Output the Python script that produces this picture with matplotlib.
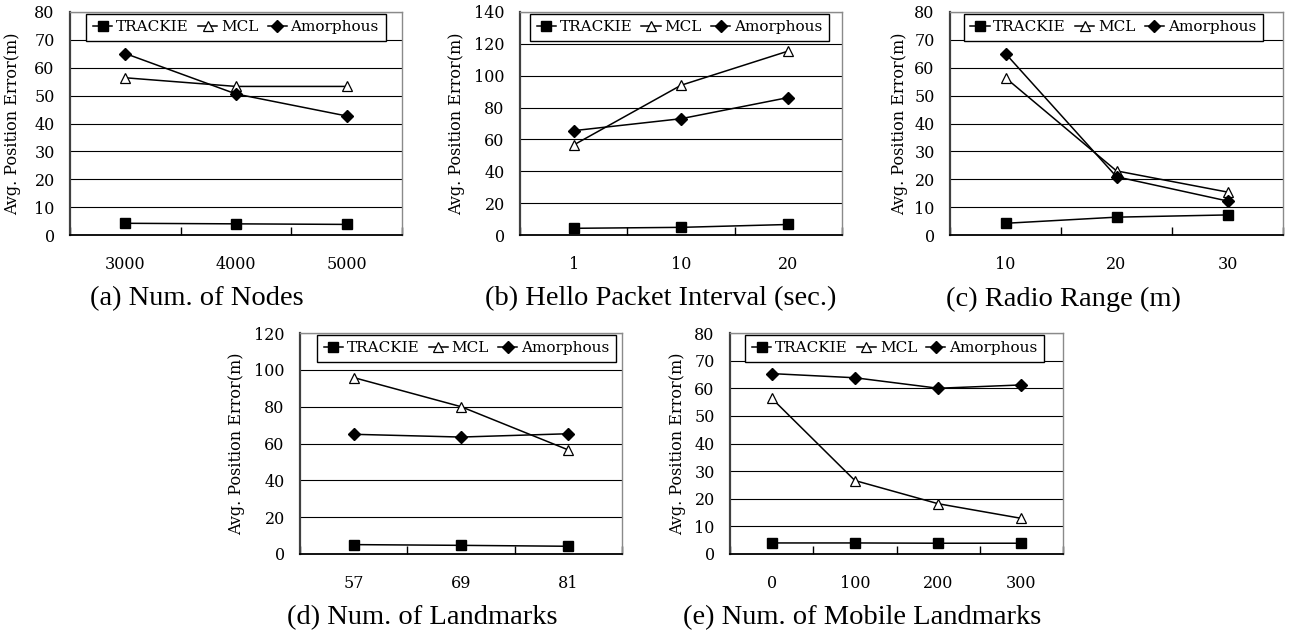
import matplotlib
matplotlib.use("Agg")
import matplotlib.pyplot as plt
import numpy as np

# ---- data ----
nodes_x = ['3000', '4000', '5000']
nodes_trackie = [4.2, 4.0, 3.8]
nodes_mcl = [56.4, 53.3, 53.3]
nodes_amorph = [65.1, 50.6, 42.7]

hello_x = ['1', '10', '20']
hello_trackie = [4.2, 4.8, 6.6]
hello_mcl = [56.5, 94.0, 115.5]
hello_amorph = [65.5, 73.0, 86.3]

radio_x = ['10', '20', '30']
radio_trackie = [4.2, 6.4, 7.2]
radio_mcl = [56.4, 23.0, 15.4]
radio_amorph = [65.1, 20.9, 12.2]

land_x = ['57', '69', '81']
land_trackie = [5.1, 4.7, 4.2]
land_mcl = [95.8, 80.0, 56.5]
land_amorph = [65.0, 63.5, 65.3]

mob_x = ['0', '100', '200', '300']
mob_trackie = [4.0, 4.0, 3.9, 3.9]
mob_mcl = [56.4, 26.6, 18.2, 12.9]
mob_amorph = [65.3, 63.8, 60.0, 61.2]

captions = ['(a) Num. of Nodes', '(b) Hello Packet Interval (sec.)',
            '(c) Radio Range (m)', '(d) Num. of Landmarks',
            '(e) Num. of Mobile Landmarks']
series_names = ['TRACKIE', 'MCL', 'Amorphous']
ylabel = 'Avg. Position Error(m)'

W, H = 1289, 635
fig = plt.figure(figsize=(W / 100, H / 100), dpi=100)

# panel layout in pixels: left, right, top, bottom, ymax, ystep, legend cx, ylabel x, caption cx
panels = [
    (nodes_x, nodes_trackie, nodes_mcl, nodes_amorph, (70, 402, 12, 235), 80, 10, 0.50, 13, 197),
    (hello_x, hello_trackie, hello_mcl, hello_amorph, (520, 842, 12, 235), 140, 20, 0.495, 457, 661),
    (radio_x, radio_trackie, radio_mcl, radio_amorph, (950, 1283, 12, 235), 80, 10, 0.49, 900, 1063),
    (land_x, land_trackie, land_mcl, land_amorph, (300, 622, 333, 554), 120, 20, 0.517, 237, 422),
    (mob_x, mob_trackie, mob_mcl, mob_amorph, (730, 1063, 333, 554), 80, 10, 0.495, 678, 862),
]

tick_font = 'DejaVu Serif'
cap_font = 'Liberation Serif'

for k, (cats, tr, mc, am, box, ymax, ystep, lcx, ylx, capx) in enumerate(panels):
    l, r, t, b = box
    ax = fig.add_axes([l / W, (H - b) / H, (r - l) / W, (b - t) / H])
    n = len(cats)
    xs = np.arange(n) + 0.5
    ax.plot(xs, tr, color='black', lw=1.1, marker='s', ms=7, mfc='black', mec='black',
            label=series_names[0], zorder=3, clip_on=False)
    ax.plot(xs, mc, color='black', lw=1.1, marker='^', ms=7.5, mfc='white', mec='black',
            mew=0.9, label=series_names[1], zorder=3, clip_on=False)
    ax.plot(xs, am, color='black', lw=1.1, marker='D', ms=6.3, mfc='black', mec='black',
            label=series_names[2], zorder=3, clip_on=False)
    ax.set_xlim(0, n)
    ax.set_ylim(0, ymax)
    yt = np.arange(0, ymax + 0.1, ystep)
    ax.set_yticks(yt)
    ax.set_yticklabels([f'{int(v)}' for v in yt], fontfamily=tick_font, fontsize=11.5)
    ax.tick_params(axis='y', length=0, pad=11)
    for v in yt[1:]:
        ax.axhline(v, color='black', lw=0.8, zorder=1)
    # x: boundary ticks inward, labels at category centres
    ax.set_xticks(np.arange(0, n + 1))
    ax.set_xticklabels([])
    ax.tick_params(axis='x', which='major', direction='in', length=6, width=1, color='black')
    ax.set_xticks(xs, minor=True)
    ax.set_xticklabels(cats, minor=True, fontfamily=tick_font, fontsize=11.5)
    ax.tick_params(axis='x', which='minor', length=0, pad=15)
    for s in ('top', 'right'):
        ax.spines[s].set_color('#8a8a8a')
        ax.spines[s].set_linewidth(1.0)
    ax.spines['left'].set_color('#404040')
    ax.spines['left'].set_linewidth(1.6)
    ax.spines['bottom'].set_color('black')
    ax.spines['bottom'].set_linewidth(1.3)
    ax.set_ylabel(ylabel, fontfamily=tick_font, fontsize=11.5)
    ax.yaxis.set_label_coords((ylx + 8 - l) / (r - l), 0.5)
    leg = ax.legend(loc='upper center', bbox_to_anchor=(lcx, 1.0), ncol=3,
                    prop={'family': tick_font, 'size': 11}, frameon=True, fancybox=False,
                    edgecolor='black', framealpha=1, borderaxespad=0.1, borderpad=0.45,
                    handlelength=1.25, handletextpad=0.25, columnspacing=0.6)
    leg.get_frame().set_linewidth(1.0)
    fig.text(capx / W, 1 - (299 if b < 300 else 618) / H, captions[k], ha='center', va='center',
             fontfamily=cap_font, fontsize=20.5)

fig.savefig('out.png', dpi=100)
